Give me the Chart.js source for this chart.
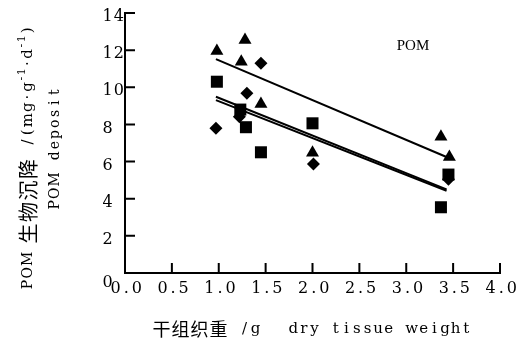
<!DOCTYPE html>
<html>
<head>
<meta charset="utf-8">
<script src="https://cdn.jsdelivr.net/npm/chart.js@4/dist/chart.umd.min.js"></script>
<style>
  html, body { margin: 0; padding: 0; background: #fff; }
  canvas { display: block; }
</style>
</head>
<body>
<canvas id="chart" width="526" height="340"></canvas>
<script>
// values
const xTicks = [0, 0.5, 1, 1.5, 2, 2.5, 3, 3.5, 4];
const yTicks = [0, 2, 4, 6, 8, 10, 12, 14];

const triX = [0.98, 1.28, 1.24, 1.45, 2.0, 3.37, 3.46];
const triY = [11.95, 12.55, 11.37, 9.1, 6.47, 7.33, 6.25];

const sqX = [0.98, 1.23, 1.29, 1.45, 2.0, 3.45, 3.37];
const sqY = [10.3, 8.8, 7.85, 6.5, 8.06, 5.3, 3.54];

const diaX = [0.97, 1.22, 1.30, 1.45, 2.01, 3.45];
const diaY = [7.79, 8.42, 9.68, 11.29, 5.87, 5.05];

// fitted lines, end points as drawn
const fitTriX = [0.97, 3.48];
const fitTriY = [11.52, 6.14];
const fitSqX = [0.97, 3.43];
const fitSqY = [9.49, 4.5];
const fitDiaX = [0.97, 3.43];
const fitDiaY = [9.31, 4.43];

const dserif = '"DejaVu Serif", serif';
const cjk = '"Noto Sans CJK SC", sans-serif';
const serif = '"Liberation Serif", serif';

function pts(xs, ys) {
    return xs.map((x, i) => ({ x: x, y: ys[i] }));
}

function markers(xs, ys, style, r) {
    return {
        data: pts(xs, ys),
        pointStyle: style,
        pointRadius: r,
        backgroundColor: '#000',
        borderColor: '#000',
        borderWidth: 0,
        showLine: false
    };
}

function fitLine(xs, ys) {
    return {
        data: pts(xs, ys),
        showLine: true,
        pointRadius: 0,
        borderColor: '#000',
        borderWidth: 2,
        fill: false
    };
}

// typewriter style: each char centred in its own cell (wider if the glyph needs it)
function drawMono(ctx, text, x, y, cell, font) {
    ctx.font = font;
    const a = ctx.textAlign;
    ctx.textAlign = 'center';
    let cx = x;
    for (const ch of text) {
        const w = Math.max(cell, ctx.measureText(ch).width + 1);
        ctx.fillText(ch, cx + w / 2, y);
        cx += w;
    }
    ctx.textAlign = a;
    return cx - x;
}

function drawRuns(ctx, runs, x, y) {
    let cx = x;
    runs.forEach(r => {
        cx += drawMono(ctx, r.t, cx, y + (r.dy || 0), r.cell, r.font);
        cx += r.gap || 0;
    });
}

const decor = {
    id: 'decor',
    afterDraw(chart) {
        const ctx = chart.ctx;
        const xs = chart.scales.x, ys = chart.scales.y;
        const area = chart.chartArea;
        ctx.save();
        ctx.strokeStyle = '#000';
        ctx.lineWidth = 2;
        // inward tick marks
        ctx.beginPath();
        xTicks.slice(1).forEach(v => {
            const px = xs.getPixelForValue(v);
            ctx.moveTo(px, area.bottom);
            ctx.lineTo(px, area.bottom - 10);
        });
        yTicks.slice(1).forEach(v => {
            const py = ys.getPixelForValue(v);
            ctx.moveTo(area.left, py);
            ctx.lineTo(area.left + 10, py);
        });
        ctx.stroke();

        ctx.fillStyle = '#000';
        ctx.textBaseline = 'middle';
        ctx.textAlign = 'left';

        // tick labels
        const tf = '16px ' + dserif;
        xTicks.forEach(v => {
            const s = v.toFixed(1);
            const px = xs.getPixelForValue(v);
            drawMono(ctx, s, px - s.length * 10 / 2, area.bottom + 16, 10, tf);
        });
        yTicks.forEach(v => {
            const py = ys.getPixelForValue(v) + (v === 0 ? 10 : 4);
            drawMono(ctx, String(v), 102, py, 9.5, tf);
        });

        // label inside the plot
        ctx.textAlign = 'center';
        ctx.font = '15px ' + serif;
        ctx.fillText('POM', 413, 46);
        ctx.textAlign = 'left';

        // x title
        drawRuns(ctx, [
            { t: '干组织重', font: '18px ' + cjk, cell: 18.5, gap: 0 },
            { t: ' /g', font: '15px ' + dserif, cell: 11, gap: 27 },
            { t: 'dry tissue weight', font: '15px ' + dserif, cell: 10.6 }
        ], 152, 329);

        // y title, two rotated lines
        ctx.save();
        ctx.translate(28, 290);
        ctx.rotate(-Math.PI / 2);
        drawRuns(ctx, [
            { t: 'POM', font: '14px ' + dserif, cell: 11, gap: 7 },
            { t: '生物沉降', font: '20px ' + cjk, cell: 21.5, gap: 2 },
            { t: ' /(mg·g', font: '15px ' + dserif, cell: 9.5 },
            { t: '-1', font: '11px ' + dserif, cell: 6, dy: -6 },
            { t: '·d', font: '15px ' + dserif, cell: 8.5 },
            { t: '-1', font: '11px ' + dserif, cell: 6, dy: -6 },
            { t: ')', font: '15px ' + dserif, cell: 8.5 }
        ], 0, 0);
        ctx.restore();

        ctx.save();
        ctx.translate(55, 210);
        ctx.rotate(-Math.PI / 2);
        drawMono(ctx, 'POM deposit', 0, 0, 10.6, '14px ' + dserif);
        ctx.restore();

        ctx.restore();
    }
};

new Chart(document.getElementById('chart'), {
    type: 'scatter',
    data: {
        datasets: [
            markers(triX, triY, 'triangle', 7.5),
            markers(sqX, sqY, 'rect', 8.5),
            markers(diaX, diaY, 'rectRot', 6.5),
            fitLine(fitTriX, fitTriY),
            fitLine(fitSqX, fitSqY),
            fitLine(fitDiaX, fitDiaY)
        ]
    },
    options: {
        responsive: false,
        animation: false,
        devicePixelRatio: 1,
        layout: { padding: { left: 0, top: 13, right: 26, bottom: 0 } },
        plugins: {
            legend: { display: false },
            tooltip: { enabled: false }
        },
        scales: {
            x: {
                type: 'linear',
                min: 0,
                max: 4,
                afterBuildTicks: s => { s.ticks = xTicks.map(v => ({ value: v })); },
                afterFit: s => { s.height = 67; },
                grid: { display: false, drawTicks: false },
                border: { color: '#000', width: 2 },
                ticks: { display: false }
            },
            y: {
                type: 'linear',
                min: 0,
                max: 14,
                afterBuildTicks: s => { s.ticks = yTicks.map(v => ({ value: v })); },
                afterFit: s => { s.width = 125; },
                grid: { display: false, drawTicks: false },
                border: { color: '#000', width: 2 },
                ticks: { display: false }
            }
        }
    },
    plugins: [decor]
});
</script>
</body>
</html>
